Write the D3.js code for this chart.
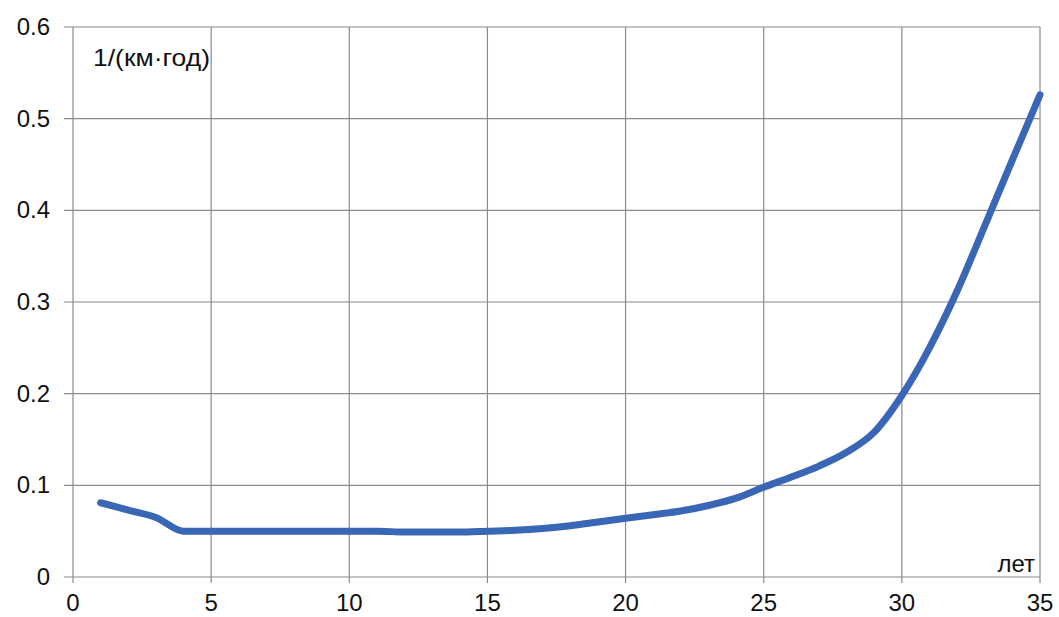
<!DOCTYPE html>
<html><head><meta charset="utf-8">
<script src="https://cdn.jsdelivr.net/npm/d3@7"></script>
<style>body{margin:0;background:#fff}svg{display:block}</style>
</head><body>
<svg id="c" width="1059" height="617"></svg>
<script>
const years = [1,2,3,4,5,6,7,8,9,10,11,12,13,14,15,16,17,18,19,20,21,22,23,24,25,26,27,28,29,30,31,32,33,34,35];
const rate  = [0.081,0.073,0.065,0.050,0.050,0.050,0.050,0.050,0.050,0.050,0.050,0.049,0.049,0.049,0.050,0.051,0.053,0.056,0.060,0.064,0.068,0.072,0.078,0.086,0.098,0.109,0.121,0.136,0.158,0.198,0.250,0.312,0.383,0.455,0.526];
const xTicks = [0,5,10,15,20,25,30,35];
const yTicks = [0,0.1,0.2,0.3,0.4,0.5,0.6];
const yUnit = "1/(км·год)";
const xUnit = "лет";

const svg = d3.select("#c");
const x = d3.scaleLinear().domain([0,35]).range([73,1040]);
const y = d3.scaleLinear().domain([0,0.6]).range([577,27]);
const font = "'Liberation Sans', Arial, sans-serif";

// grid
svg.append("g").selectAll("line").data(yTicks).join("line")
  .attr("x1", 64).attr("x2", x(35))
  .attr("y1", d=>y(d)).attr("y2", d=>y(d))
  .attr("stroke", "#8a8a8a").attr("stroke-width", 1.2);
svg.append("g").selectAll("line").data(xTicks).join("line")
  .attr("x1", d=>x(d)).attr("x2", d=>x(d))
  .attr("y1", y(0.6)).attr("y2", y(0)+6)
  .attr("stroke", "#8a8a8a").attr("stroke-width", 1.2);

// tick labels
svg.append("g").selectAll("text").data(yTicks).join("text")
  .attr("x", 50).attr("y", d=>y(d)+8)
  .attr("text-anchor","end").attr("font-family",font).attr("font-size",24).attr("fill","#111")
  .text(d=>d3.format("")(d));
svg.append("g").selectAll("text").data(xTicks).join("text")
  .attr("x", d=>x(d)).attr("y", 611)
  .attr("text-anchor","middle").attr("font-family",font).attr("font-size",24).attr("fill","#111")
  .text(d=>d);

// unit labels
svg.append("text").attr("x", 93).attr("y", 66)
  .attr("font-family",font).attr("font-size",24).attr("fill","#111")
  .attr("textLength",117).attr("lengthAdjust","spacingAndGlyphs").text(yUnit);
svg.append("text").attr("x", 1035).attr("y", 572).attr("text-anchor","end")
  .attr("font-family",font).attr("font-size",24).attr("fill","#111").text(xUnit);

// line
const line = d3.line().x((d,i)=>x(years[i])).y(d=>y(d)).curve(d3.curveMonotoneX);
svg.append("path").datum(rate).attr("d", line)
  .attr("fill","none").attr("stroke","#3a66b6").attr("stroke-width",7)
  .attr("stroke-linecap","round").attr("stroke-linejoin","round");
</script>
</body></html>
